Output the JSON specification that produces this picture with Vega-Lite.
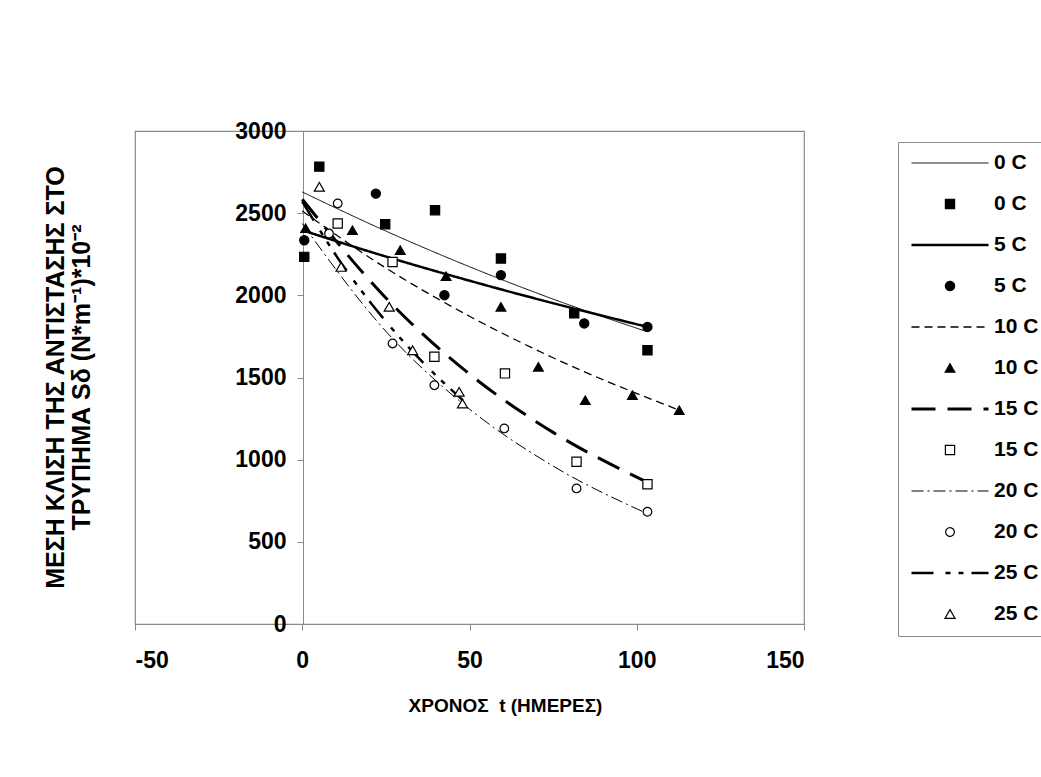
{
  "$schema": "https://vega.github.io/schema/vega-lite/v6.json",
  "autosize": "none",
  "width": 669,
  "height": 493,
  "padding": {"left": 135, "top": 131, "right": 237, "bottom": 153},
  "background": "white",
  "config": {
    "view": {"stroke": "#8a8a8a", "strokeWidth": 1.2},
    "font": "Liberation Sans",
    "mark": {"color": "black"},
    "axis": {"grid": false, "domainColor": "#8a8a8a", "tickColor": "#8a8a8a", "labelColor": "black", "titleColor": "black", "labelFont": "Liberation Sans", "titleFont": "Liberation Sans", "labelFontWeight": "bold", "titleFontWeight": "bold"}
  },
  "datasets": {
    "pts": [
      {"entry": "0 C|P", "t": 0.6, "s": 2234}, {"entry": "0 C|P", "t": 5.1, "s": 2783}, {"entry": "0 C|P", "t": 24.8, "s": 2433}, {"entry": "0 C|P", "t": 39.7, "s": 2518}, {"entry": "0 C|P", "t": 59.4, "s": 2224}, {"entry": "0 C|P", "t": 81.3, "s": 1890}, {"entry": "0 C|P", "t": 103.2, "s": 1666},
      {"entry": "5 C|P", "t": 0.6, "s": 2335}, {"entry": "5 C|P", "t": 22, "s": 2619}, {"entry": "5 C|P", "t": 42.5, "s": 2001}, {"entry": "5 C|P", "t": 59.4, "s": 2123}, {"entry": "5 C|P", "t": 84.3, "s": 1829}, {"entry": "5 C|P", "t": 103.2, "s": 1808},
      {"entry": "10 C|P", "t": 1, "s": 2408}, {"entry": "10 C|P", "t": 15, "s": 2396}, {"entry": "10 C|P", "t": 29.3, "s": 2275}, {"entry": "10 C|P", "t": 43, "s": 2116}, {"entry": "10 C|P", "t": 59.4, "s": 1930}, {"entry": "10 C|P", "t": 70.6, "s": 1565}, {"entry": "10 C|P", "t": 84.6, "s": 1362}, {"entry": "10 C|P", "t": 98.7, "s": 1393}, {"entry": "10 C|P", "t": 112.7, "s": 1301},
      {"entry": "15 C|P", "t": 10.6, "s": 2437}, {"entry": "15 C|P", "t": 27, "s": 2203}, {"entry": "15 C|P", "t": 39.5, "s": 1626}, {"entry": "15 C|P", "t": 60.6, "s": 1525}, {"entry": "15 C|P", "t": 82, "s": 987}, {"entry": "15 C|P", "t": 103.2, "s": 850},
      {"entry": "20 C|P", "t": 8, "s": 2376}, {"entry": "20 C|P", "t": 10.6, "s": 2559}, {"entry": "20 C|P", "t": 27, "s": 1707}, {"entry": "20 C|P", "t": 39.5, "s": 1453}, {"entry": "20 C|P", "t": 60.4, "s": 1190}, {"entry": "20 C|P", "t": 82, "s": 825}, {"entry": "20 C|P", "t": 103.2, "s": 683},
      {"entry": "25 C|P", "t": 5.1, "s": 2660}, {"entry": "25 C|P", "t": 11.6, "s": 2173}, {"entry": "25 C|P", "t": 26, "s": 1930}, {"entry": "25 C|P", "t": 33, "s": 1666}, {"entry": "25 C|P", "t": 46.9, "s": 1413}, {"entry": "25 C|P", "t": 47.9, "s": 1342}
    ],
    "trend": [
      {"entry": "0 C|L", "t": 0, "s": 2629}, {"entry": "0 C|L", "t": 25, "s": 2391}, {"entry": "0 C|L", "t": 50, "s": 2174}, {"entry": "0 C|L", "t": 75, "s": 1977}, {"entry": "0 C|L", "t": 103.2, "s": 1778},
      {"entry": "5 C|L", "t": 0, "s": 2396}, {"entry": "5 C|L", "t": 25, "s": 2236}, {"entry": "5 C|L", "t": 50, "s": 2089}, {"entry": "5 C|L", "t": 75, "s": 1952}, {"entry": "5 C|L", "t": 103.2, "s": 1808},
      {"entry": "10 C|L", "t": 0, "s": 2513}, {"entry": "10 C|L", "t": 25, "s": 2166}, {"entry": "10 C|L", "t": 50, "s": 1873}, {"entry": "10 C|L", "t": 75, "s": 1620}, {"entry": "10 C|L", "t": 112.7, "s": 1301},
      {"entry": "15 C|L", "t": 0, "s": 2585}, {"entry": "15 C|L", "t": 25, "s": 1984}, {"entry": "15 C|L", "t": 50, "s": 1521}, {"entry": "15 C|L", "t": 75, "s": 1166}, {"entry": "15 C|L", "t": 103.2, "s": 862},
      {"entry": "20 C|L", "t": 0, "s": 2437}, {"entry": "20 C|L", "t": 25, "s": 1781}, {"entry": "20 C|L", "t": 50, "s": 1308}, {"entry": "20 C|L", "t": 75, "s": 961}, {"entry": "20 C|L", "t": 103.2, "s": 671},
      {"entry": "25 C|L", "t": 0, "s": 2570}, {"entry": "25 C|L", "t": 12, "s": 2186}, {"entry": "25 C|L", "t": 24, "s": 1866}, {"entry": "25 C|L", "t": 36, "s": 1593}, {"entry": "25 C|L", "t": 48, "s": 1362}
    ]
  },
  "encoding": {
    "x": {"field": "t", "type": "quantitative", "scale": {"domain": [-50, 150], "nice": false},
      "axis": {"values": [-50, 0, 50, 100, 150], "labelExpr": "datum.value + ''", "title": "ΧΡΟΝΟΣ\u00a0 t (ΗΜΕΡΕΣ)", "labelFontSize": 23, "titleFontSize": 19, "tickSize": 6, "labelPadding": 19, "titleX": 370, "titleAlign": "center", "titleY": 81, "titleBaseline": "middle"}},
    "y": {"field": "s", "type": "quantitative", "scale": {"domain": [0, 3000], "nice": false},
      "axis": {"values": [0, 500, 1000, 1500, 2000, 2500, 3000], "labelExpr": "datum.value + ''", "offset": -168, "title": ["ΜΕΣΗ ΚΛΙΣΗ ΤΗΣ ΑΝΤΙΣΤΑΣΗΣ ΣΤΟ", "ΤΡΥΠΗΜΑ Sδ (N*m⁻¹)*10⁻²"], "labelFontSize": 23, "titleFontSize": 25, "tickSize": 6, "labelPadding": 11, "titleX": -248, "titleY": 246, "titleAngle": -90, "titleAlign": "center", "titleBaseline": "middle", "titleLineHeight": 26}}
  },
  "layer": [
    {
      "data": {"name": "trend"},
      "mark": {"type": "line", "interpolate": "monotone", "color": "black"},
      "encoding": {
        "strokeDash": {"field": "entry", "type": "nominal",
          "scale": {"domain": ["0 C|L","0 C|P","5 C|L","5 C|P","10 C|L","10 C|P","15 C|L","15 C|P","20 C|L","20 C|P","25 C|L","25 C|P"],
            "range": [[1,0],[1,0],[1,0],[1,0],[8,5],[1,0],[24,12],[1,0],[12,4,2,4],[1,0],[22,12,5,8,5,8],[1,0]]}},
        "strokeWidth": {"field": "entry", "type": "nominal",
          "scale": {"type": "ordinal", "domain": ["0 C|L","0 C|P","5 C|L","5 C|P","10 C|L","10 C|P","15 C|L","15 C|P","20 C|L","20 C|P","25 C|L","25 C|P"],
            "range": [1, 1.2, 2.5, 1.2, 1.3, 1.2, 3, 1.2, 1, 1.2, 2.5, 1.2]}}
      }
    },
    {
      "data": {"name": "pts"},
      "mark": {"type": "point", "filled": true, "stroke": "black", "opacity": 1},
      "encoding": {
        "shape": {"field": "entry", "type": "nominal",
          "scale": {"domain": ["0 C|L","0 C|P","5 C|L","5 C|P","10 C|L","10 C|P","15 C|L","15 C|P","20 C|L","20 C|P","25 C|L","25 C|P"],
            "range": ["stroke","square","stroke","circle","stroke","triangle-up","stroke","square","stroke","circle","stroke","triangle-up"]},
          "legend": {
            "title": null, "orient": "none", "legendX": 763, "legendY": 11,
            "strokeColor": "#8a8a8a", "padding": 12, "fillColor": "white",
            "symbolStrokeColor": "black", "clipHeight": 18,
            "labelFont": "Liberation Sans", "labelFontWeight": "bold", "labelFontSize": 21, "labelOffset": 4, "labelColor": "black",
            "rowPadding": 20, "labelExpr": "split(datum.label, '|')[0]"
          }},
        "fill": {"field": "entry", "type": "nominal",
          "scale": {"domain": ["0 C|L","0 C|P","5 C|L","5 C|P","10 C|L","10 C|P","15 C|L","15 C|P","20 C|L","20 C|P","25 C|L","25 C|P"],
            "range": ["black","black","black","black","black","black","black","white","black","white","black","white"]}},
        "size": {"field": "entry", "type": "nominal",
          "scale": {"type": "ordinal", "domain": ["0 C|L","0 C|P","5 C|L","5 C|P","10 C|L","10 C|P","15 C|L","15 C|P","20 C|L","20 C|P","25 C|L","25 C|P"],
            "range": [5929, 85, 5929, 85, 5929, 95, 5929, 85, 5929, 75, 5929, 100]}},
        "strokeWidth": {"field": "entry", "type": "nominal",
          "scale": {"type": "ordinal", "domain": ["0 C|L","0 C|P","5 C|L","5 C|P","10 C|L","10 C|P","15 C|L","15 C|P","20 C|L","20 C|P","25 C|L","25 C|P"],
            "range": [1, 1.2, 2.5, 1.2, 1.3, 1.2, 3, 1.2, 1, 1.2, 2.5, 1.2]}}
      }
    }
  ]
}
